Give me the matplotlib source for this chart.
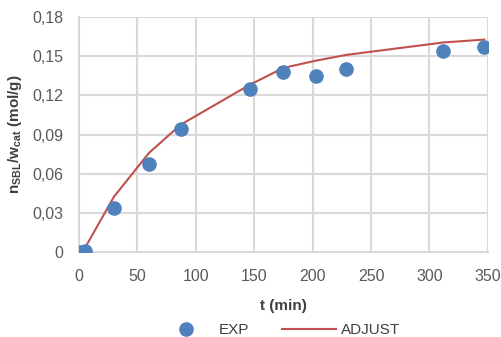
import matplotlib
matplotlib.use("Agg")
import matplotlib.pyplot as plt
from matplotlib.ticker import FuncFormatter

plt.rcParams['font.family'] = ['Liberation Sans', 'DejaVu Sans']
plt.rcParams['mathtext.fontset'] = 'custom'
plt.rcParams['mathtext.rm'] = 'Liberation Sans'
plt.rcParams['mathtext.bf'] = 'Liberation Sans:bold'
plt.rcParams['mathtext.it'] = 'Liberation Sans:italic'

# Experimental points
t_exp = [0, 5, 30, 60, 87, 146, 175, 203, 229, 312, 347]
n_exp = [0.0, 0.001, 0.034, 0.0675, 0.094, 0.125, 0.138, 0.135, 0.1405, 0.154, 0.157]

# Fitted model curve
t_fit = [5, 30, 60, 87, 146, 175, 203, 229, 312, 347]
n_fit = [0.003, 0.0425, 0.076, 0.0975, 0.128, 0.141, 0.1466, 0.151, 0.1605, 0.1627]

x_ticks = [0, 50, 100, 150, 200, 250, 300, 350]
y_ticks = [0, 0.03, 0.06, 0.09, 0.12, 0.15, 0.18]

fig = plt.figure(figsize=(5.01, 3.37), dpi=100)
ax = fig.add_axes([0.1577, 0.252, 0.816, 0.6976])

grid_c = '#d9d9d9'
ax.plot(t_exp, n_exp, 'o', color='#4f81bd', markersize=9.5, label='EXP', zorder=3)
ax.plot(t_fit, n_fit, '-', color='#c0504d', linewidth=1.5, label='ADJUST', zorder=2)

ax.set_xlim(0, 350)
ax.set_ylim(0, 0.18)
ax.set_xticks(x_ticks)
ax.set_yticks(y_ticks)
ax.yaxis.set_major_formatter(FuncFormatter(lambda v, p: '0' if v == 0 else f'{v:.2f}'.replace('.', ',')))
ax.grid(True, color=grid_c, linewidth=1.5)
ax.set_axisbelow(True)
for s in ['top', 'right']:
    ax.spines[s].set_visible(False)
for s in ['left', 'bottom']:
    ax.spines[s].set_color(grid_c)
    ax.spines[s].set_linewidth(1.5)
ax.tick_params(length=0, labelsize=11.5, labelcolor='#595959')
ax.tick_params(axis='x', pad=12)
ax.tick_params(axis='y', pad=11)

ax.set_xlabel('t (min)', fontsize=11, fontweight='bold', color='#404040', labelpad=11)
ax.set_ylabel(r'n$_{\mathbf{SBL}}$/w$_{\mathbf{cat}}$ (mol/g)', fontsize=11, fontweight='bold',
              color='#404040', labelpad=6)

fig.legend(loc='center', bbox_to_anchor=(0.559, 0.021), ncol=2, frameon=False,
           fontsize=11, handlelength=3.5, handletextpad=0.35, columnspacing=2.2,
           labelcolor='#404040')

fig.savefig('out.png', dpi=100)
